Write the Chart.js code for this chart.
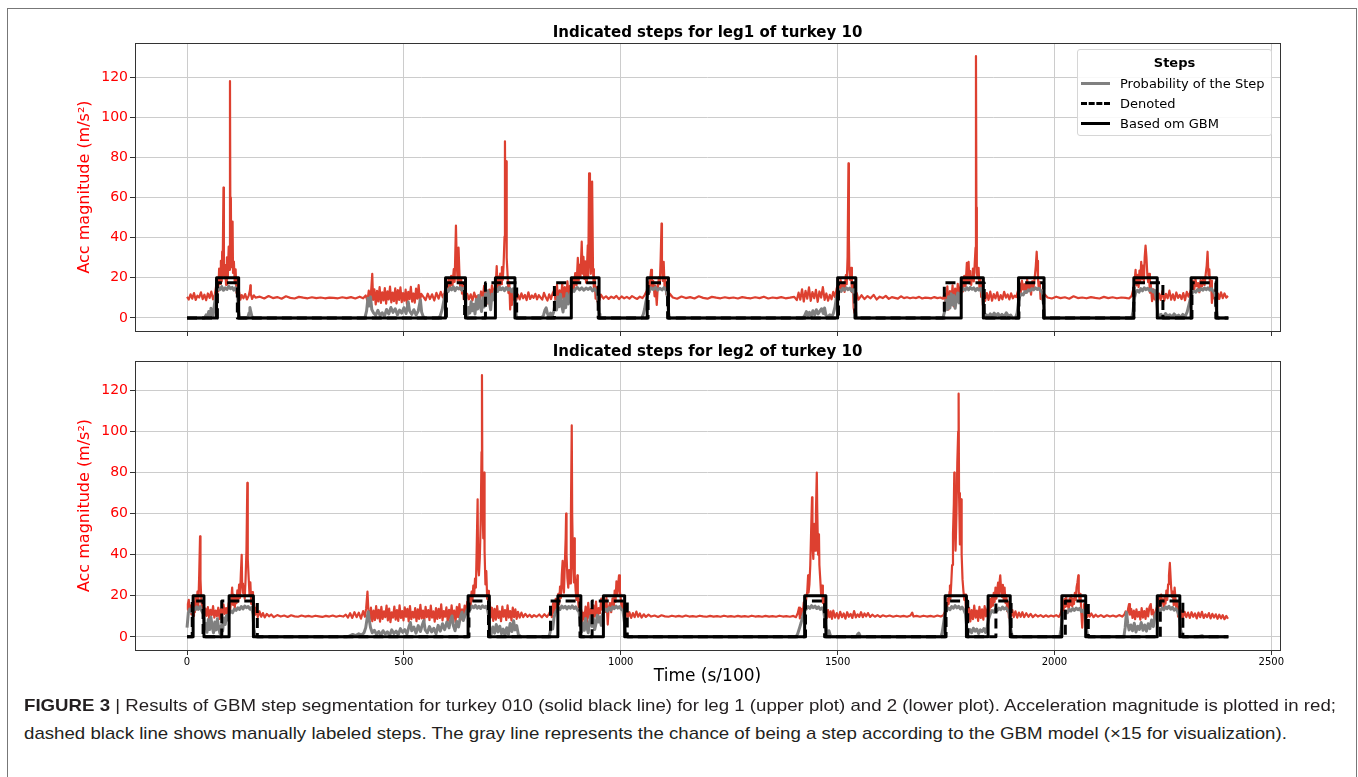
<!DOCTYPE html>
<html>
<head>
<meta charset="utf-8">
<script src="https://cdn.jsdelivr.net/npm/chart.js@4.4.1/dist/chart.umd.min.js"></script>
<style>
html,body{margin:0;padding:0;background:#fff;width:1358px;height:777px;overflow:hidden;position:relative;}
#frame{position:absolute;left:7px;top:8px;width:1350px;height:800px;border:1px solid #777;box-sizing:border-box;}
#c1{position:absolute;left:0;top:0;}
#c2{position:absolute;left:0;top:335px;}
#legend{position:absolute;left:1077px;top:49px;width:195px;height:87px;background:rgba(255,255,255,0.85);border:1px solid #d6d6d6;border-radius:3px;box-sizing:border-box;font-family:"DejaVu Sans",sans-serif;color:#000;}
#legend .lt{position:absolute;left:0;width:100%;top:5px;text-align:center;font-weight:bold;font-size:13px;line-height:16px;}
#legend .row{position:absolute;left:0;width:100%;height:16px;}
#legend .sw{position:absolute;left:3px;top:7px;width:29px;height:0;}
#legend .tx{position:absolute;left:42px;top:0;font-size:13px;line-height:16px;white-space:nowrap;}
.cap{position:absolute;left:24px;white-space:nowrap;font-family:"Liberation Sans Narrow","Liberation Sans",Arial,sans-serif;font-size:17px;line-height:20px;color:#231f20;transform-origin:0 50%;}
</style>
</head>
<body>
<div id="frame"></div>
<canvas id="c1" width="1358" height="345"></canvas>
<canvas id="c2" width="1358" height="365"></canvas>
<div id="legend">
  <div class="lt">Steps</div>
  <div class="row" style="top:26px"><div class="sw" style="border-top:3px solid #808080;margin-top:-1px"></div><div class="tx">Probability of the Step</div></div>
  <div class="row" style="top:46px"><div class="sw" style="border-top:3px dashed #000;margin-top:-1px"></div><div class="tx">Denoted</div></div>
  <div class="row" style="top:66px"><div class="sw" style="border-top:3px solid #000;margin-top:-1px"></div><div class="tx">Based om GBM</div></div>
</div>
<div class="cap" id="cap1" style="top:696px"><b>FIGURE 3</b> | Results of GBM step segmentation for turkey 010 (solid black line) for leg 1 (upper plot) and 2 (lower plot). Acceleration magnitude is plotted in red;</div>
<div class="cap" id="cap2" style="top:724px">dashed black line shows manually labeled steps. The gray line represents the chance of being a step according to the GBM model (×15 for visualization).</div>
<script>
// ---------- data ----------
const xTicks = [0, 500, 1000, 1500, 2000, 2500];
const yTicks = [0, 20, 40, 60, 80, 100, 120];
const gbmLevel = 20;
const denotedLevel = 17.5;
const recordEnd = 2401;

// leg 1: acceleration magnitude [time (s/100), m/s^2]
const leg1Acc = [[0,10.5],[4,9.2],[8,11.8],[12,9.6],[16,12.4],[20,9.0],[24,11.1],[28,10.2],[32,12.8],[36,9.4],[40,11.6],[44,8.8],[48,12.2],[52,10.0],[56,13.1],[60,9.3],[64,11.5],
[67,15.8],[70,19.5],[72,13.2],[74,24.6],[76,17.0],[78,28.5],[80,18.2],[81,33.0],[82,21.4],[84,65.0],[85,30.1],[86,19.8],[88,26.3],[90,16.5],[92,30.2],[94,20.1],[96,35.5],[97,24.0],[99,118.0],[100,40.2],[101,60.0],[102,25.3],[104,36.8],[105,48.0],[106,22.4],[108,28.1],[110,17.3],[112,24.2],[114,12.5],[116,18.8],[118,8.6],[120,12.9],[123,9.1],[126,11.4],
[130,9.8],[134,11.9],[138,9.2],[142,11.0],[145,13.8],[146,16.2],[147,12.0],[150,9.5],[154,11.3],[158,10.1],
[168,10.6],[178,9.7],[188,10.9],[198,9.9],[208,10.4],[218,9.6],[228,10.8],[238,10.0],[248,9.7],[258,10.5],[268,10.1],[278,9.8],[288,10.3],[298,9.9],[308,10.2],[318,9.8],[328,10.1],[338,10.0],[348,9.8],[358,10.3],[368,9.9],[378,10.4],[388,9.7],[398,10.6],[406,9.8],[412,11.2],
[416,8.5],[419,13.6],[422,7.2],[425,15.1],[427,22.0],[429,9.0],[432,14.2],[435,6.8],[438,13.5],[441,8.2],[444,15.4],[447,7.5],[450,12.8],[453,8.8],[456,14.9],[459,7.1],[462,13.3],[465,9.2],[468,15.6],[471,7.8],[474,12.6],[477,8.4],[480,14.8],[483,7.3],[486,13.9],[489,9.0],[492,15.2],[495,7.9],[498,12.4],[501,8.6],[504,14.1],[507,6.9],[510,13.0],[513,9.4],[516,15.5],[519,8.1],[522,12.2],[525,7.6],[528,14.6],[531,9.6],[534,16.4],[537,8.3],[540,12.0],
[545,10.5],[550,8.9],[555,12.1],[560,9.4],[565,11.8],[570,8.7],[575,12.5],[580,9.6],[585,13.0],[590,10.2],
[594,12.8],[597,16.4],[600,13.1],[603,19.2],[606,14.5],[609,21.0],[612,16.1],[615,24.3],[617,18.0],[620,46.0],[622,26.2],[624,18.5],[626,35.0],[628,22.4],[630,14.2],[632,19.6],[634,12.1],[636,17.3],[638,9.4],[640,13.5],[643,8.6],[646,12.0],
[650,9.3],[654,11.8],[658,8.7],[662,12.6],[666,9.9],[670,11.1],[674,8.4],[678,13.2],[682,10.5],[685,16.0],[688,9.6],[691,12.4],[694,7.2],[697,14.1],[700,8.8],[703,16.3],[706,10.1],[709,14.5],
[712,17.8],[714,25.8],[716,15.2],[718,20.6],[720,14.0],[722,22.1],[724,16.8],[726,25.4],[728,18.9],[730,27.3],[732,40.5],[733,88.0],[734,52.0],[736,78.0],[737,30.0],[739,21.5],[741,12.4],[743,18.0],[745,4.2],[747,12.8],[749,6.5],[751,14.2],[753,9.1],[756,13.0],[759,8.8],
[763,11.6],[767,9.2],[771,12.3],[775,9.8],[779,11.5],[783,8.9],[787,12.8],[791,9.5],[795,11.2],[799,10.0],[803,12.0],[807,9.3],[811,11.4],[815,10.2],[819,9.1],[823,12.5],[827,10.3],[831,8.7],[835,11.8],[839,9.4],[843,12.3],
[847,14.0],[850,7.2],[853,16.5],[856,6.1],[859,13.8],[862,8.4],[865,17.2],[868,9.6],[871,15.4],[874,6.8],[877,18.3],[880,10.9],[883,16.0],[886,12.4],[889,19.8],[892,14.5],[895,22.4],[898,16.2],[901,30.0],[903,18.6],[905,26.4],[907,20.3],[910,38.0],[912,22.1],[914,30.5],[916,19.4],[918,28.2],[920,17.6],[922,24.9],[924,36.2],[925,20.0],[927,72.0],[929,30.5],[931,22.0],[933,40.1],[934,68.0],[936,24.4],[938,14.6],[940,19.5],[942,9.6],[944,15.3],[946,8.2],[948,12.7],[951,9.0],[954,11.6],
[960,9.7],[966,10.8],[972,9.5],[978,10.6],[984,9.9],[990,11.0],[996,9.4],[1002,10.7],[1008,9.8],[1014,10.5],[1020,9.6],[1026,10.9],[1032,10.1],[1038,9.5],[1044,10.6],[1050,9.9],[1055,11.4],
[1060,13.5],[1063,17.8],[1066,12.6],[1068,19.5],[1070,24.0],[1072,15.2],[1075,18.4],[1078,10.8],[1080,16.1],[1083,6.5],[1085,14.4],[1088,20.2],[1090,16.8],[1092,29.5],[1094,47.0],[1095,26.0],[1097,18.5],[1099,28.0],[1101,15.4],[1103,19.2],[1105,11.8],[1107,14.6],[1110,9.2],[1113,12.1],
[1120,10.2],[1130,9.6],[1140,10.7],[1150,9.9],[1160,10.4],[1170,9.7],[1180,10.8],[1190,10.0],[1200,9.6],[1210,10.5],[1220,10.1],[1230,9.8],[1240,10.3],[1250,9.9],[1260,10.2],[1270,9.7],[1280,10.4],[1290,10.0],[1300,9.8],[1310,10.3],[1320,9.9],[1330,10.6],[1340,9.7],[1350,10.2],[1360,9.9],[1370,10.4],[1380,9.8],[1390,10.1],[1400,10.5],
[1406,8.9],[1410,12.6],[1414,9.1],[1418,14.3],[1422,8.2],[1426,13.5],[1430,9.6],[1434,15.2],[1438,8.5],[1442,12.9],[1446,9.8],[1450,14.0],[1454,8.0],[1458,13.2],[1462,10.1],[1466,15.4],[1470,9.0],[1474,12.2],[1478,8.6],[1482,11.5],[1486,9.3],[1490,13.0],[1494,10.4],[1498,14.8],
[1501,16.5],[1504,12.8],[1507,19.0],[1510,14.2],[1513,17.6],[1516,13.0],[1519,21.4],[1521,16.8],[1523,30.5],[1525,77.0],[1526,40.0],[1527,24.6],[1529,19.0],[1531,25.0],[1533,12.8],[1535,17.5],[1537,5.0],[1539,2.5],[1541,8.9],[1544,12.4],[1548,9.1],
[1555,11.3],[1562,9.4],[1569,10.9],[1576,9.8],[1583,11.5],[1590,9.2],[1597,10.6],[1604,9.9],[1611,11.0],[1618,9.5],[1625,10.4],[1632,10.0],[1639,9.6],[1646,10.8],[1653,9.9],[1660,10.3],[1667,9.8],[1674,10.2],[1681,9.9],[1688,10.5],[1695,9.7],[1702,10.1],[1709,10.0],[1716,9.8],[1723,10.4],[1730,9.9],[1737,10.2],[1743,9.6],
[1747,12.2],[1750,5.5],[1753,15.8],[1756,4.2],[1759,13.4],[1762,7.6],[1765,16.2],[1768,5.8],[1771,14.6],[1774,8.9],[1777,17.0],[1780,9.4],[1783,15.6],[1786,19.5],[1789,13.2],[1792,21.0],[1795,15.8],[1798,27.5],[1800,18.0],[1802,28.0],[1804,17.2],[1806,23.4],[1808,16.5],[1810,20.8],[1812,24.6],[1814,18.2],[1816,26.5],[1818,35.0],[1819,130.5],[1820,55.0],[1821,22.5],[1823,19.8],[1825,25.0],[1827,15.1],[1829,19.6],[1831,10.5],[1833,16.2],[1835,6.4],[1837,11.8],[1840,8.5],
[1844,12.4],[1848,9.0],[1852,13.1],[1856,8.6],[1860,11.9],[1864,9.7],[1868,12.8],[1872,8.9],[1876,11.4],[1880,9.3],[1884,13.0],[1888,10.1],[1892,11.7],[1896,9.2],[1900,12.3],[1904,9.8],[1908,11.1],[1912,10.4],
[1916,13.6],[1919,17.4],[1922,12.2],[1925,18.6],[1928,14.1],[1931,16.8],[1934,12.5],[1937,19.2],[1940,14.8],[1943,17.0],[1946,11.6],[1949,18.3],[1952,15.2],[1955,21.5],[1957,26.0],[1959,33.0],[1960,28.5],[1962,19.4],[1964,14.2],[1966,18.0],[1968,9.5],[1970,13.6],[1973,8.8],[1976,12.0],
[1984,10.2],[1994,9.7],[2004,10.6],[2014,9.9],[2024,10.3],[2034,9.6],[2044,10.8],[2054,9.9],[2064,10.2],[2074,9.8],[2084,10.4],[2094,10.0],[2104,9.7],[2114,10.5],[2124,9.9],[2134,10.3],[2144,9.8],[2154,10.2],[2164,10.0],[2172,9.7],[2178,11.0],
[2182,14.5],[2185,19.0],[2187,24.0],[2189,16.2],[2192,21.5],[2194,15.4],[2196,23.6],[2198,18.2],[2200,28.0],[2202,19.5],[2204,26.1],[2206,17.4],[2208,30.2],[2210,36.0],[2212,30.5],[2214,22.0],[2216,17.8],[2218,22.0],[2220,12.6],[2222,16.8],[2225,8.4],[2228,14.3],[2231,9.2],[2234,13.0],[2237,7.5],
[2241,12.1],[2245,9.0],[2249,13.4],[2253,8.6],[2257,12.0],[2261,9.8],[2265,13.6],[2269,9.1],[2273,11.8],[2277,8.9],[2281,12.7],[2285,10.0],[2289,11.5],[2293,9.4],[2297,12.4],[2301,8.8],[2305,13.0],[2309,10.6],[2313,12.8],
[2316,15.0],[2319,18.6],[2322,13.4],[2325,19.5],[2328,15.8],[2331,17.4],[2334,12.8],[2337,18.9],[2340,15.6],[2343,19.8],[2346,16.4],[2349,22.5],[2351,26.0],[2353,33.0],[2355,21.4],[2357,24.2],[2359,14.5],[2361,18.6],[2363,7.5],[2365,13.2],[2368,9.8],[2371,14.1],[2374,7.9],[2377,12.2],
[2380,9.5],[2384,12.8],[2388,9.9],[2392,12.2],[2396,10.1],[2400,11.0]];

// leg 1: step probability (x15)
const leg1Prob = [[0,0],[40,0],[44,1.5],[47,0.5],[50,3.2],[53,1.2],[55,4.8],[57,2.0],[60,0.8],[63,6.5],[66,10.8],[69,13.6],[72,15.2],[76,14.1],[80,15.6],[84,13.8],[88,15.0],[92,14.2],[96,15.8],[100,14.6],[104,15.2],[108,13.9],[112,15.1],[116,12.5],[119,3.0],[121,0],[140,0],[143,2.5],[145,5.2],[147,3.0],[150,0.4],[152,0],
[410,0],[414,3.5],[417,9.8],[420,6.0],[423,10.5],[426,4.2],[430,2.5],[435,1.4],[440,3.8],[445,1.2],[450,2.6],[455,0.8],[460,4.2],[465,2.0],[470,5.2],[475,2.8],[480,4.6],[485,1.6],[490,3.9],[495,2.4],[500,5.1],[505,2.2],[510,8.0],[513,3.6],[518,1.8],[523,4.1],[528,1.5],[533,3.4],[538,9.0],[541,2.8],[545,0.5],[548,0],
[580,0],[584,1.2],[588,4.0],[592,8.5],[595,12.0],[598,14.2],[602,13.1],[606,15.0],[610,14.0],[614,15.5],[618,13.6],[622,15.2],[626,14.5],[630,15.3],[634,13.8],[638,14.9],[641,11.0],[643,3.0],[646,1.5],[649,5.2],[652,2.4],[655,8.1],[658,3.6],[661,6.8],[664,2.0],[667,9.2],[670,4.5],[673,11.2],[676,6.0],[679,3.2],[682,10.1],[685,5.5],[688,12.0],[691,7.4],[694,13.5],[697,8.0],[700,4.1],[703,11.8],[706,9.0],[709,13.2],[712,14.6],[716,13.2],[720,15.4],[724,14.1],[728,15.0],[732,13.6],[736,15.2],[740,14.0],[744,14.8],[748,13.1],[752,14.5],[756,10.5],[758,3.0],[760,0],
[818,0],[822,1.5],[825,3.8],[828,5.0],[831,2.2],[834,0.6],[838,2.4],[842,1.0],[846,3.5],[849,8.2],[852,4.0],[855,10.5],[858,5.6],[861,11.8],[864,6.2],[867,3.0],[870,9.6],[873,5.1],[876,12.2],[879,7.0],[882,10.4],[885,12.6],[888,14.0],[892,13.2],[896,14.6],[900,15.2],[905,14.0],[910,15.0],[915,13.8],[920,14.9],[925,14.2],[930,15.1],[935,13.5],[940,14.6],[945,12.8],[948,8.0],[950,2.0],[952,0],
[1048,0],[1052,1.8],[1055,4.5],[1058,8.2],[1062,11.6],[1066,13.4],[1070,15.0],[1075,14.2],[1080,15.3],[1085,13.9],[1090,14.8],[1095,14.0],[1100,15.1],[1105,13.6],[1108,10.0],[1110,3.0],[1112,0],
[1420,0],[1424,1.2],[1428,3.2],[1431,1.0],[1435,2.8],[1439,0.8],[1443,3.6],[1447,1.5],[1451,4.1],[1455,2.0],[1459,3.4],[1463,4.6],[1467,2.2],[1470,5.0],[1473,1.4],[1477,0.5],[1482,1.6],[1486,0.4],[1490,2.2],[1494,5.5],[1497,9.8],[1500,12.4],[1504,14.0],[1508,13.2],[1512,14.8],[1516,13.9],[1520,15.0],[1524,14.1],[1528,14.9],[1532,13.5],[1536,14.2],[1539,10.5],[1541,4.0],[1543,0],
[1743,0],[1747,3.5],[1750,8.8],[1753,4.2],[1756,10.6],[1759,5.0],[1762,12.0],[1765,6.5],[1768,11.2],[1771,4.8],[1774,9.5],[1777,12.4],[1780,7.5],[1783,11.8],[1786,13.4],[1790,14.6],[1794,13.8],[1798,15.1],[1802,14.0],[1806,15.2],[1810,14.3],[1814,15.0],[1818,13.6],[1822,14.7],[1826,13.9],[1830,14.8],[1834,12.0],[1837,4.0],[1839,0.8],[1843,1.6],[1847,0.5],[1852,2.0],[1856,0.8],[1861,2.4],[1865,1.0],[1870,2.2],[1874,0.6],[1879,1.8],[1884,0.5],[1889,2.6],[1894,0.9],[1899,1.5],[1903,0],
[1910,0],[1914,2.5],[1917,8.0],[1920,10.8],[1924,12.0],[1928,11.5],[1932,13.2],[1936,12.8],[1940,14.0],[1944,13.5],[1948,14.6],[1952,14.0],[1956,15.0],[1960,14.2],[1964,14.8],[1968,13.6],[1972,12.5],[1975,6.0],[1977,1.0],[1979,0],
[2178,0],[2181,3.0],[2184,9.5],[2187,12.5],[2191,13.8],[2195,12.9],[2199,14.6],[2203,13.5],[2207,15.0],[2211,14.1],[2215,14.8],[2219,13.6],[2223,14.5],[2227,13.0],[2231,13.8],[2235,9.5],[2238,2.5],[2241,0.6],[2246,1.8],[2251,0.5],[2256,2.2],[2261,0.8],[2266,1.6],[2271,0.4],[2276,2.0],[2281,0.7],[2286,1.4],[2291,0.3],[2296,1.8],[2301,0.5],[2306,3.0],[2310,6.5],[2314,10.2],[2318,12.6],[2322,13.4],[2326,12.8],[2330,14.2],[2334,13.5],[2338,14.6],[2342,13.8],[2346,14.9],[2350,14.1],[2354,15.0],[2358,13.9],[2362,14.6],[2366,13.2],[2370,12.0],[2373,5.0],[2375,1.0],[2378,0],[2400,0]];

// leg 1: step intervals [start, end]
const leg1Gbm = [[68,119],[596,642],[711,756],[886,950],[1061,1110],[1500,1542],[1785,1836],[1917,1976],[2183,2237],[2315,2374]];
const leg1Denoted = [[70,116],[598,640],[688,760],[847,948],[1063,1108],[1502,1540],[1746,1838],[1918,1975],[2183,2250],[2317,2372]];

// leg 2: acceleration magnitude
const leg2Acc = [[0,13.2],[2,16.0],[4,18.0],[6,12.4],[8,15.2],[10,11.0],[12,14.6],[14,10.2],[16,16.8],[18,12.0],[20,19.5],[22,13.4],[24,22.0],[26,15.0],[28,30.0],[30,49.0],[31,28.0],[33,17.5],[35,12.0],[37,15.6],[39,9.5],[42,13.8],[45,10.2],[48,14.5],[51,9.0],[54,13.2],[57,10.6],[60,15.0],[63,9.4],[66,12.8],[69,10.1],[72,14.2],[75,8.8],[78,13.5],[81,10.4],[84,15.8],[87,11.2],[90,14.0],[93,10.6],[96,16.5],[99,12.4],[102,18.0],[104,24.0],[106,15.6],[108,20.5],[110,14.2],[112,19.0],[114,16.4],[116,22.6],[118,17.2],[120,25.5],[122,19.0],[124,30.5],[126,40.0],[127,26.0],[129,21.4],[131,24.8],[133,18.6],[135,28.4],[137,42.0],[139,75.0],[140,38.0],[142,29.0],[144,20.5],[146,26.5],[148,16.0],[150,21.8],[152,13.5],[154,17.0],[157,10.8],[160,14.2],[163,9.6],[167,12.4],[171,9.8],[175,11.6],[179,9.5],[184,11.2],[189,10.0],[194,10.9],[200,9.6],
[208,10.6],[216,9.9],[224,10.4],[232,9.7],[240,10.5],[248,10.0],[256,9.8],[264,10.4],[272,9.9],[280,10.2],[288,9.8],[296,10.3],[304,10.0],[312,9.7],[320,10.2],[328,9.9],[336,10.4],[344,9.8],[352,10.3],[360,9.9],[366,10.8],[371,9.4],[376,11.5],[381,9.2],[386,12.0],[391,9.6],[396,11.8],[401,8.9],[406,12.6],[410,9.8],[413,14.0],[416,22.0],[418,13.5],
[421,8.5],[424,14.2],[427,7.6],[430,12.8],[433,8.2],[436,15.0],[439,9.0],[442,13.2],[445,7.4],[448,14.6],[451,8.8],[454,12.4],[457,9.6],[460,15.2],[463,8.0],[466,13.8],[469,7.2],[472,12.0],[475,9.4],[478,14.8],[481,8.4],[484,13.0],[487,7.8],[490,15.4],[493,9.2],[496,12.6],[499,8.0],[502,14.4],[505,9.8],[508,13.6],[511,7.5],[514,15.0],[517,8.6],[520,12.2],[523,9.4],[526,14.0],[529,7.6],[532,13.4],[535,8.8],[538,15.6],[541,9.0],[544,12.8],[547,7.8],[550,14.6],[553,9.6],[556,13.0],[559,8.2],[562,15.2],[565,9.4],[568,12.4],[571,7.4],[574,14.0],[577,8.8],[580,13.6],[583,9.2],[586,15.8],[589,8.0],[592,12.6],[595,9.8],[598,14.4],[601,7.6],[604,13.2],[607,8.6],[610,15.4],[613,9.0],[616,12.8],[619,7.2],[622,14.6],[625,9.6],[628,16.0],[631,8.4],[634,13.4],[637,10.0],[640,15.2],[643,11.0],[646,17.0],
[649,14.0],[652,19.5],[654,15.4],[656,22.0],[658,17.6],[660,25.0],[662,20.0],[664,28.4],[666,24.0],[668,45.0],[670,67.0],[671,35.0],[673,30.0],[675,38.5],[677,55.0],[679,90.0],[680,127.5],[681,70.0],[683,48.0],[685,80.0],[686,42.0],[688,25.5],[690,32.0],[692,18.5],[694,22.4],[696,13.0],[698,16.8],
[700,9.4],[703,14.2],[706,7.8],[709,13.6],[712,8.4],[715,15.0],[718,9.2],[721,12.4],[724,7.6],[727,14.8],[730,9.8],[733,13.0],[736,8.2],[739,15.4],[742,9.4],[745,12.6],[748,8.0],[751,14.2],[754,9.6],[757,13.4],[760,8.8],[763,12.2],[767,9.4],[771,11.8],[775,9.6],[780,11.2],[785,9.8],[790,10.8],[795,9.6],[800,10.6],[806,9.8],[812,10.9],[818,9.5],[824,11.0],[830,9.7],[835,11.4],
[838,12.8],[841,9.6],[844,16.4],[847,11.5],[850,18.5],[853,13.6],[856,21.0],[858,16.0],[860,24.5],[862,19.0],[864,30.0],[866,37.0],[867,25.0],[869,21.5],[871,35.0],[873,48.0],[874,60.0],[875,40.0],[877,28.6],[879,24.0],[881,32.5],[883,26.0],[885,58.0],[887,103.0],[888,60.0],[890,34.0],[892,26.5],[893,48.0],[894,30.0],[896,22.5],[898,18.0],[900,30.0],[901,19.0],[903,14.6],[905,18.2],[907,9.5],
[909,13.0],[911,6.0],[913,11.8],[916,8.6],[919,14.8],[922,7.2],[925,16.6],[928,9.0],[931,13.5],[934,5.8],[937,15.4],[940,9.8],[943,17.2],[946,8.4],[949,14.0],[952,11.5],[955,18.6],[958,13.0],[961,17.4],[964,12.2],[967,19.0],[970,6.0],[972,13.8],[975,16.5],[978,12.0],[981,18.8],[984,14.6],[986,22.5],[988,17.0],[990,27.0],[992,20.0],[994,25.5],[996,30.0],[998,22.0],[1000,18.6],[1002,14.0],[1004,16.5],[1006,11.2],[1008,14.8],
[1011,9.4],[1014,12.6],[1017,9.8],[1020,12.0],[1024,9.2],[1028,11.6],[1032,9.6],[1036,12.3],[1040,9.8],[1044,11.4],[1048,9.4],[1053,11.0],[1058,9.7],[1064,10.8],[1070,9.9],[1078,10.4],[1086,9.7],[1094,10.5],[1102,10.0],[1110,9.8],[1118,10.3],[1126,9.9],[1134,10.2],[1142,9.8],[1150,10.4],[1158,9.9],[1166,10.1],[1174,9.8],[1182,10.3],[1190,10.0],[1198,9.8],[1206,10.2],[1214,9.9],[1222,10.1],[1230,9.8],[1238,10.3],[1246,9.9],[1254,10.1],[1262,9.8],[1270,10.2],[1278,9.9],[1286,10.1],[1294,9.8],[1302,10.3],[1310,9.9],[1318,10.1],[1326,9.8],[1334,10.2],[1342,9.9],[1350,10.1],[1358,9.8],[1366,10.3],[1374,9.9],[1382,10.1],[1390,9.8],[1398,10.2],[1404,9.6],
[1408,11.5],[1411,14.2],[1413,9.0],[1416,13.6],[1419,10.4],[1422,16.8],[1425,13.0],[1428,19.5],[1430,22.0],[1432,30.0],[1433,21.5],[1435,25.6],[1437,35.0],[1439,52.0],[1441,68.0],[1442,45.0],[1444,38.0],[1446,55.0],[1448,42.0],[1450,60.0],[1452,80.0],[1453,62.0],[1455,40.0],[1457,50.0],[1458,35.0],[1460,28.0],[1462,20.5],[1464,25.0],[1466,16.5],[1468,19.0],[1470,12.0],[1472,15.8],
[1475,9.2],[1478,13.0],[1481,9.6],[1484,12.4],[1487,8.8],[1490,12.8],[1494,9.4],[1498,11.6],[1502,9.0],[1506,12.2],[1510,9.6],[1514,11.4],[1518,8.9],[1522,12.0],[1526,9.8],[1530,11.2],[1534,9.2],[1538,12.6],[1542,9.5],[1546,11.0],[1550,9.8],[1554,12.0],[1558,9.6],[1562,11.4],[1566,10.0],[1570,11.6],[1575,9.7],[1580,10.8],[1586,9.8],[1592,10.6],[1598,9.7],[1604,10.5],[1612,9.9],[1620,10.4],[1628,9.8],[1636,10.3],[1644,9.9],[1652,10.2],[1660,9.8],[1668,10.4],[1672,11.8],[1675,9.9],[1682,10.2],[1690,9.8],[1698,10.3],[1706,9.9],[1714,10.2],[1722,9.8],[1730,10.4],[1738,9.9],[1744,10.6],
[1748,12.5],[1750,15.8],[1752,13.0],[1754,18.6],[1756,16.0],[1758,22.0],[1759,25.0],[1760,18.5],[1762,26.0],[1764,35.0],[1766,50.0],[1768,65.0],[1769,80.0],[1770,55.0],[1772,42.0],[1774,60.0],[1776,85.0],[1778,100.0],[1779,118.5],[1780,70.0],[1782,45.0],[1784,58.0],[1785,67.0],[1786,40.0],[1788,28.0],[1790,22.5],[1792,18.0],[1794,20.6],[1796,13.2],[1798,16.4],
[1800,9.8],[1803,14.2],[1806,7.5],[1809,13.0],[1812,8.6],[1815,15.2],[1818,9.4],[1821,12.8],[1824,7.8],[1827,14.6],[1830,9.2],[1833,13.4],[1836,8.4],[1839,15.0],[1842,10.0],[1845,13.2],
[1848,15.6],[1850,12.2],[1852,18.4],[1854,14.6],[1856,19.8],[1858,15.2],[1860,21.5],[1862,17.0],[1864,24.0],[1866,18.6],[1868,22.5],[1870,26.4],[1872,20.0],[1874,28.0],[1875,30.0],[1877,23.0],[1879,19.5],[1881,25.4],[1883,18.0],[1885,24.0],[1887,16.5],[1889,20.4],[1891,12.5],[1893,17.0],[1895,9.4],[1897,14.8],
[1900,10.2],[1903,13.0],[1906,9.6],[1910,12.4],[1914,9.4],[1918,11.8],[1922,9.8],[1926,12.0],[1930,9.6],[1935,11.5],[1940,9.8],[1945,11.2],[1950,9.6],[1956,10.8],[1962,9.9],[1968,10.6],[1974,9.7],[1980,10.5],[1986,9.8],[1992,10.4],[1998,9.9],[2004,10.6],[2010,9.7],[2014,11.2],
[2017,13.5],[2019,17.6],[2021,12.8],[2023,18.4],[2025,14.6],[2027,19.8],[2029,15.0],[2031,17.2],[2033,12.4],[2035,18.8],[2037,15.6],[2039,20.2],[2041,14.8],[2043,18.4],[2045,16.0],[2047,21.4],[2049,18.0],[2051,24.2],[2053,26.5],[2055,30.0],[2056,22.0],[2058,17.4],[2060,21.0],[2062,11.4],[2064,4.5],[2066,12.2],[2068,16.0],[2070,10.6],[2072,14.4],
[2075,9.6],[2078,12.6],[2081,9.8],[2085,11.4],[2090,9.6],[2095,10.8],[2100,9.8],[2107,10.6],[2114,9.7],[2121,10.5],[2128,9.9],[2135,10.4],[2142,9.8],[2149,10.6],[2156,9.9],[2161,10.8],
[2164,12.4],[2167,9.6],[2170,14.0],[2172,16.0],[2174,10.8],[2177,13.6],[2180,9.2],[2183,12.8],[2186,8.6],[2189,13.4],[2192,9.8],[2195,12.2],[2198,8.4],[2201,14.0],[2204,9.4],[2207,12.6],[2210,8.8],[2213,13.8],[2216,10.0],[2219,14.6],[2222,16.0],[2224,11.0],[2227,13.2],[2230,9.0],[2233,12.0],
[2236,14.6],[2238,18.0],[2240,13.6],[2242,19.4],[2244,15.2],[2246,20.6],[2248,16.4],[2250,18.2],[2252,14.0],[2254,19.6],[2256,16.2],[2258,22.5],[2260,18.0],[2262,25.6],[2264,30.0],[2266,36.0],[2267,32.0],[2269,24.0],[2271,19.5],[2273,22.0],[2275,15.4],[2277,24.0],[2279,18.6],[2281,13.4],[2283,17.0],[2285,9.8],[2287,14.6],
[2290,8.6],[2293,12.8],[2296,9.4],[2300,12.2],[2304,9.6],[2308,11.8],[2312,9.2],[2316,12.0],[2320,9.8],[2324,11.4],[2328,9.0],[2332,11.8],[2336,9.6],[2340,12.2],[2344,9.2],[2348,11.0],[2352,9.6],[2356,11.6],[2360,9.0],[2364,11.2],[2368,9.4],[2372,11.0],[2376,8.8],[2380,10.8],[2384,9.0],[2388,10.6],[2392,8.6],[2396,10.2],[2400,8.8]];

// leg 2: step probability (x15)
const leg2Prob = [[0,4.5],[3,11.8],[6,13.5],[10,12.2],[14,14.0],[18,13.1],[22,14.6],[26,13.4],[30,14.8],[34,12.6],[38,11.0],[40,4.0],[43,6.5],[46,2.2],[49,8.4],[52,3.6],[55,9.6],[58,4.8],[61,2.0],[64,7.2],[67,3.4],[70,8.8],[73,4.1],[76,1.6],[79,5.5],[82,2.8],[85,9.2],[88,6.0],[91,10.4],[94,8.2],[97,11.5],[101,12.6],[105,11.8],[109,13.5],[113,12.9],[117,14.2],[121,13.4],[125,14.8],[129,13.6],[133,15.0],[137,14.2],[141,14.8],[145,13.5],[149,14.4],[152,11.0],[154,4.0],[157,1.0],[160,0],
[368,0],[375,0.5],[382,1.2],[389,0.6],[396,1.5],[402,0.9],[408,2.0],[412,4.5],[416,10.2],[418,12.2],[420,8.4],[423,4.6],[427,2.0],[432,3.2],[437,1.1],[442,2.6],[447,0.9],[452,3.0],[457,1.4],[462,2.5],[467,0.7],[472,3.4],[477,1.6],[482,2.8],[487,1.0],[492,4.0],[497,2.2],[502,3.5],[507,1.3],[512,5.2],[515,7.0],[518,3.0],[523,4.8],[528,1.8],[533,5.5],[538,2.6],[543,6.2],[546,8.0],[549,3.4],[554,2.0],[559,5.0],[564,2.4],[569,4.2],[574,1.5],[579,5.6],[584,2.8],[589,6.4],[594,3.5],[599,7.2],[604,4.4],[608,8.6],[611,10.2],[614,5.5],[618,3.0],[622,7.5],[626,4.8],[630,9.4],[634,12.0],[637,8.0],[641,10.5],[645,12.8],[649,14.2],[653,13.4],[657,15.0],[661,14.2],[665,15.3],[669,14.0],[673,14.9],[677,13.8],[681,15.1],[685,14.3],[689,14.9],[693,13.2],[696,9.0],[698,3.0],[701,1.2],[705,4.8],[709,1.8],[713,6.0],[717,2.4],[721,5.2],[725,1.5],[729,3.8],[733,0.8],[737,4.4],[741,1.2],[745,6.5],[749,2.6],[753,7.8],[756,3.4],[760,5.5],[764,1.0],[768,0.4],[772,0],
[834,0],[837,2.0],[840,6.5],[843,3.8],[846,9.2],[849,11.8],[852,13.0],[856,14.2],[860,13.4],[864,15.0],[868,14.1],[872,14.9],[876,13.6],[880,14.8],[884,14.0],[888,15.1],[892,13.8],[896,14.6],[900,13.2],[904,12.0],[907,6.0],[910,2.5],[913,6.8],[916,3.2],[919,9.0],[922,4.6],[925,2.0],[928,7.4],[931,10.2],[934,5.0],[937,8.8],[940,3.6],[943,6.5],[946,10.5],[949,7.2],[952,9.8],[955,5.6],[958,11.0],[961,12.6],[965,13.5],[969,12.4],[973,14.2],[977,13.0],[981,14.6],[985,13.8],[989,15.0],[993,14.0],[997,14.8],[1001,13.5],[1005,12.8],[1008,8.0],[1011,2.5],[1014,0.6],[1017,0],
[1404,0],[1408,1.5],[1412,4.2],[1416,7.0],[1420,10.4],[1424,12.8],[1428,13.6],[1432,14.8],[1436,13.9],[1440,15.2],[1444,14.2],[1448,15.0],[1452,13.8],[1456,14.6],[1460,13.4],[1464,14.2],[1468,12.5],[1471,8.0],[1474,3.0],[1477,1.2],[1480,3.0],[1483,0.8],[1487,0],
[1543,0],[1546,1.2],[1549,1.8],[1552,0.5],[1555,0],
[1738,0],[1741,2.0],[1744,6.2],[1747,10.5],[1751,12.8],[1755,14.0],[1759,13.2],[1763,14.8],[1767,14.0],[1771,15.2],[1775,14.1],[1779,14.9],[1783,13.6],[1787,14.5],[1791,13.2],[1795,11.0],[1798,4.0],[1801,2.2],[1805,3.6],[1809,2.0],[1813,4.2],[1817,2.8],[1821,3.8],[1825,1.6],[1829,3.4],[1833,2.6],[1837,4.0],[1841,2.2],[1845,5.0],[1848,8.6],[1852,11.2],[1856,12.8],[1860,12.0],[1864,13.6],[1868,12.8],[1872,14.0],[1876,13.2],[1880,14.5],[1884,13.6],[1888,14.2],[1892,13.0],[1896,11.5],[1899,4.0],[1902,0.8],[1905,0],
[2012,0],[2015,3.5],[2018,8.6],[2022,11.4],[2026,12.6],[2030,11.8],[2034,13.4],[2038,12.6],[2042,13.8],[2046,12.9],[2050,14.0],[2054,13.2],[2058,13.9],[2062,12.4],[2066,13.0],[2070,11.2],[2073,5.0],[2076,1.0],[2079,0],
[2160,0],[2163,4.5],[2166,12.0],[2169,6.5],[2172,3.4],[2176,5.8],[2180,3.0],[2184,6.6],[2188,2.4],[2192,5.2],[2196,3.6],[2200,7.0],[2204,3.2],[2208,5.8],[2212,2.8],[2216,6.4],[2220,4.0],[2224,8.2],[2228,5.0],[2232,10.6],[2236,12.2],[2240,13.4],[2244,12.6],[2248,14.0],[2252,13.2],[2256,14.6],[2260,13.8],[2264,14.9],[2268,13.5],[2272,14.4],[2276,13.0],[2280,13.8],[2284,12.4],[2288,10.0],[2291,3.5],[2294,0.8],[2297,0],
[2330,0],[2340,0.6],[2345,0],[2400,0]];

const leg2Gbm = [[14,39],[97,153],[648,697],[855,908],[960,1009],[1424,1473],[1748,1797],[1847,1898],[2017,2072],[2237,2289]];
const leg2Denoted = [[12,37],[80,162],[650,695],[838,906],[934,1015],[1426,1470],[1750,1800],[1865,1900],[2025,2078],[2244,2296]];

// ---------- drawing ----------
function stepSeries(intervals, level) {
  const pts = [[0, 0]];
  intervals.forEach(([a, b]) => { pts.push([a, 0], [a, level], [b, level], [b, 0]); });
  pts.push([recordEnd, 0]);
  return pts;
}

const spinePlugin = {
  id: 'spines',
  afterDraw(chart) {
    const a = chart.chartArea, ctx = chart.ctx;
    ctx.save();
    ctx.strokeStyle = '#333';
    ctx.lineWidth = 1;
    ctx.strokeRect(Math.round(a.left) + 0.5, Math.round(a.top) + 0.5, Math.round(a.right - a.left), Math.round(a.bottom - a.top));
    ctx.restore();
  }
};

function buildChart(id, o) {
  return new Chart(document.getElementById(id), {
    type: 'line',
    data: {
      datasets: [
        { label: 'Based om GBM', data: stepSeries(o.gbm, gbmLevel), borderColor: '#000', borderWidth: 3, order: 1 },
        { label: 'Denoted', data: stepSeries(o.denoted, denotedLevel), borderColor: '#000', borderWidth: 3, borderDash: [10, 5], order: 2 },
        { label: 'Probability of the Step', data: o.prob, borderColor: '#808080', borderWidth: 3, order: 3 },
        { label: 'Acc magnitude', data: o.acc, borderColor: '#dd4030', borderWidth: 2.2, order: 4 }
      ]
    },
    options: {
      responsive: false,
      animation: false,
      devicePixelRatio: 1,
      elements: { point: { radius: 0, hoverRadius: 0 }, line: { tension: 0, borderJoinStyle: 'round', fill: false } },
      layout: { padding: { left: 71, right: 78, top: 0, bottom: 0 } },
      events: [],
      plugins: {
        legend: { display: false },
        tooltip: { enabled: false },
        title: {
          display: true, text: o.title, fullSize: false, color: '#000',
          font: { family: 'DejaVu Sans', size: 15, weight: 'bold', lineHeight: 1.2 },
          padding: o.titlePad
        }
      },
      scales: {
        x: {
          type: 'linear', min: -120, max: 2520, bounds: 'data',
          afterBuildTicks: s => { s.ticks = xTicks.map(v => ({ value: v })); },
          afterFit: s => { s.height = o.xHeight; },
          grid: { color: '#cccccc', lineWidth: 1, tickLength: 5, tickColor: '#333', drawTicks: true },
          border: { display: false },
          ticks: {
            display: o.xLabels, autoSkip: false, maxRotation: 0, padding: 1, color: '#000',
            font: { family: 'DejaVu Sans', size: 10 },
            callback: v => String(v)
          },
          title: {
            display: o.xLabels, text: 'Time (s/100)', color: '#000',
            font: { family: 'DejaVu Sans', size: 17 }, padding: { top: 0, bottom: 13 }
          }
        },
        y: {
          type: 'linear', min: o.yMin, max: o.yMax, bounds: 'data',
          afterBuildTicks: s => { s.ticks = yTicks.map(v => ({ value: v })); },
          afterFit: s => { s.width = 64; },
          grid: { color: '#cccccc', lineWidth: 1, tickLength: 5, tickColor: '#333', drawTicks: true },
          border: { display: false },
          ticks: { color: '#ff0000', padding: 2, font: { family: 'DejaVu Sans', size: 14 }, callback: v => String(v) },
          title: {
            display: true, text: 'Acc magnitude (m/s²)', color: '#ff0000',
            font: { family: 'DejaVu Sans', size: 16 }, padding: { top: 4, bottom: 0 }
          }
        }
      }
    },
    plugins: [spinePlugin]
  });
}

buildChart('c1', {
  title: 'Indicated steps for leg1 of turkey 10', titlePad: { top: 24, bottom: 1 },
  acc: leg1Acc, prob: leg1Prob, gbm: leg1Gbm, denoted: leg1Denoted,
  yMin: -6.5, yMax: 137, xLabels: false, xHeight: 14
});
buildChart('c2', {
  title: 'Indicated steps for leg2 of turkey 10', titlePad: { top: 8, bottom: 0 },
  acc: leg2Acc, prob: leg2Prob, gbm: leg2Gbm, denoted: leg2Denoted,
  yMin: -6.4, yMax: 134.4, xLabels: true, xHeight: 50
});

// fit caption lines to the figure width
(function () {
  const c1 = document.getElementById('cap1'), c2 = document.getElementById('cap2');
  const w = c1.getBoundingClientRect().width;
  const k = 1312 / w;
  c1.style.transform = 'scaleX(' + k + ')';
  c2.style.transform = 'scaleX(' + k + ')';
})();
</script>
</body>
</html>
